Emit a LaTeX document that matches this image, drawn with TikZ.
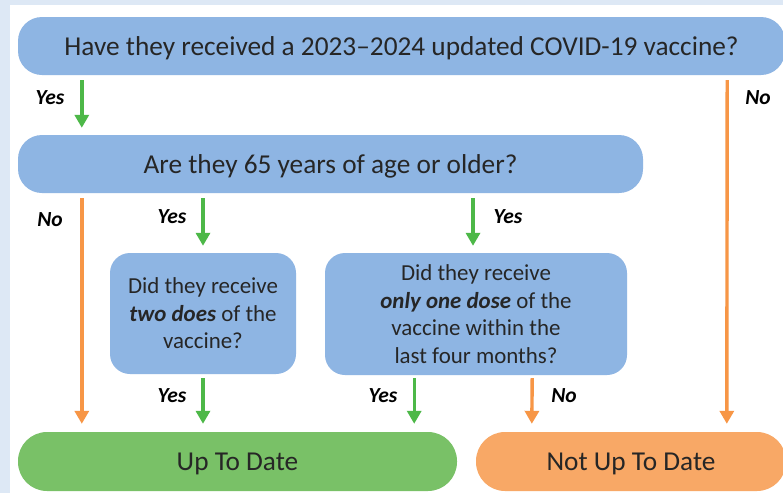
\documentclass[tikz,border=0pt]{standalone}
\usepackage{fontspec}
\setmainfont{Carlito}
\usetikzlibrary{arrows.meta, positioning}

\definecolor{boxblue}{RGB}{142,181,227}
\definecolor{boxgreen}{RGB}{121,193,103}
\definecolor{boxorange}{RGB}{248,168,102}
\definecolor{arrgreen}{RGB}{77,184,72}
\definecolor{arrorange}{RGB}{247,150,70}
\definecolor{textgray}{RGB}{38,38,38}
\definecolor{pageblue}{RGB}{221,232,245}

\tikzset{
  question/.style={rectangle, rounded corners=24pt, fill=boxblue, text=textgray,
    align=center, inner sep=0pt, text depth=0pt, font=\fontsize{27.3}{30}\selectfont},
  smallq/.style={question, rounded corners=20pt, font=\fontsize{22.9}{27.5}\selectfont},
  result/.style={rectangle, rounded corners=29pt, text=textgray, inner sep=0pt,
    text depth=0pt, font=\fontsize{27.3}{30}\selectfont},
  lbl/.style={text=black, font=\fontsize{21.5}{24}\selectfont\bfseries\itshape},
  yesarrow/.style={draw=arrgreen, line width=3.4pt, -{Triangle[width=14pt,length=13pt]}},
  noarrow/.style={draw=arrorange, line width=3.4pt, -{Triangle[width=14pt,length=13pt]}}
}

\begin{document}
\begin{tikzpicture}[x=1pt, y=-1pt]
  % page frame
  \fill[pageblue] (0,0) rectangle (783,493);
  \fill[white] (10,5) rectangle (783,493);
  \useasboundingbox (0,0) rectangle (783,493);

  % questions
  \node[question, minimum width=767pt, minimum height=58pt] (q1) at (401.5,46)
    {Have they received a 2023--2024 updated COVID-19 vaccine?};
  \node[question, minimum width=625pt, minimum height=58pt] (q2) at (330.5,164)
    {Are they 65 years of age or older?};
  \node[smallq, minimum width=186pt, minimum height=121pt] (q3) at (203,313.5)
    {Did they receive\\\textbf{\textit{two does}} of the\\vaccine?};
  \node[smallq, minimum width=302pt, minimum height=122pt] (q4) at (476,314)
    {Did they receive\\\textbf{\textit{only one dose}} of the\\vaccine within the\\last four months?};

  % outcomes
  \node[result, fill=boxgreen, minimum width=439pt, minimum height=59pt] (done) at (237.5,461.5)
    {Up To Date};
  \node[result, fill=boxorange, minimum width=310pt, minimum height=59pt] (notdone) at (631,461.5)
    {Not Up To Date};

  % arrows
  \draw[yesarrow] ([xshift=64pt,yshift=-5pt]q1.south west) -- ([xshift=64pt,yshift=7pt]q2.north west);
  \draw[noarrow] ([xshift=-58pt,yshift=-5pt]q1.south east) -- ([xshift=251pt,yshift=8pt]notdone.north west);
  \draw[noarrow] ([xshift=64pt,yshift=-5pt]q2.south west) -- ([xshift=64pt,yshift=8pt]done.north west);
  \draw[yesarrow] ([yshift=-5pt]q2.south -| q3.north) -- ([yshift=7pt]q3.north);
  \draw[yesarrow] ([xshift=-3pt,yshift=-5pt]q2.south -| q4.north) -- ([xshift=-3pt,yshift=7pt]q4.north);
  \draw[yesarrow] ([yshift=-4pt]q3.south) -- ([yshift=8pt]q3.south |- done.north);
  \draw[yesarrow] ([xshift=-213pt,yshift=-3pt]q4.south east) -- ([xshift=-43pt,yshift=8pt]done.north east);
  \draw[noarrow] ([xshift=-95pt,yshift=-3pt]q4.south east) -- ([xshift=56pt,yshift=8pt]notdone.north west);

  % branch labels
  \node[lbl] (y1) at (50,98) {Yes};
  \node[lbl] (n1) at (758,98) {No};
  \node[lbl] (n2) at (50,220) {No};
  \node[lbl] (y2) at (172,217) {Yes};
  \node[lbl] (y3) at (508,217) {Yes};
  \node[lbl] (y4) at (172,396) {Yes};
  \node[lbl] (y5) at (383,396) {Yes};
  \node[lbl] (n3) at (564,396) {No};
\end{tikzpicture}
\end{document}
